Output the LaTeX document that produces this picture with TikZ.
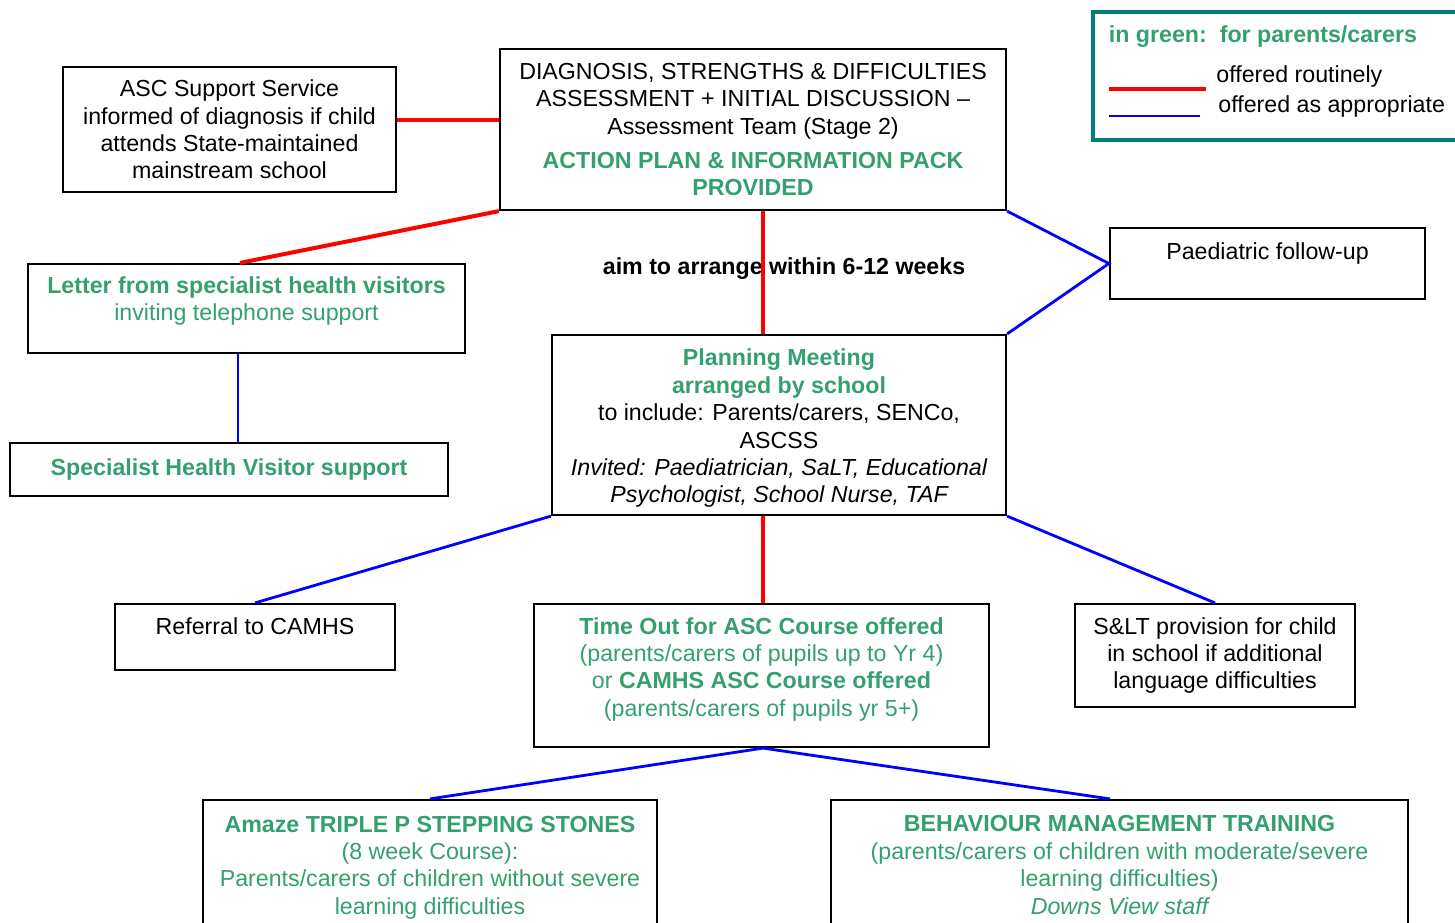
\documentclass[tikz,border=0pt]{standalone}
\usepackage{fontspec}
\setmainfont{Liberation Sans}
\usetikzlibrary{calc}

\definecolor{carer}{RGB}{52,160,110}
\definecolor{legendteal}{RGB}{0,128,118}
\newcommand{\grn}[1]{\textcolor{carer}{#1}}
\newcommand{\grb}[1]{\textcolor{carer}{\bfseries #1}}
\newcommand{\padline}[1][0pt]{\\[#1]\rule{0pt}{1pt}}
\newcommand{\boxfont}{\fontsize{11.6}{13.7}\selectfont}

\begin{document}
\begin{tikzpicture}[x=0.5pt,y=-0.5pt,
  box/.style={draw=black, line width=1.1pt, align=center, inner sep=2pt, font=\boxfont},
  routine/.style={draw=red, line width=2pt},
  optional/.style={draw=blue, line width=1.4pt}]

\useasboundingbox (0,0) rectangle (1455,922);

% Kasten
\node[box, minimum width=166.5pt, minimum height=62.5pt] (asc) at (229.5,129.5)
  {ASC Support Service\\informed of diagnosis if child\\attends State-maintained\\mainstream school};
\node[box, minimum width=253pt, minimum height=80.5pt] (diag) at (753,129.5)
  {DIAGNOSIS, STRENGTHS \& DIFFICULTIES\\ASSESSMENT + INITIAL DISCUSSION --\\Assessment Team (Stage 2)\\[3.3pt]
   \grb{ACTION PLAN \& INFORMATION PACK}\\\grb{PROVIDED}};
\node[box, minimum width=218.5pt, minimum height=44.5pt] (letter) at (246.5,308.5)
  {\grb{Letter from specialist health visitors}\\\grn{inviting telephone support}\padline[-4pt]};
\node[box, minimum width=157.5pt, minimum height=35.5pt] (paed) at (1267.5,263.5)
  {Paediatric follow-up\padline[-1pt]};
\node[box, minimum width=227pt, minimum height=90pt] (plan) at (779,425)
  {\rule{0pt}{11.8pt}\grb{Planning Meeting}\\\grb{arranged by school}\\to include: Parents/carers, SENCo,\\ASCSS\\
   \itshape Invited: Paediatrician, SaLT, Educational\\\itshape Psychologist, School Nurse, TAF};
\node[box, minimum width=219pt, minimum height=26.5pt] (shv) at (229,469.5)
  {\grb{Specialist Health Visitor support}};
\node[box, minimum width=140pt, minimum height=33pt] (camhs) at (255,637)
  {Referral to CAMHS\padline[-3pt]};
\node[box, minimum width=227.5pt, minimum height=71.5pt] (timeout) at (761.5,675.5)
  {\grb{Time Out for ASC Course offered}\\\grn{(parents/carers of pupils up to Yr 4)}\\
   \grn{or} \grb{CAMHS ASC Course offered}\\\grn{(parents/carers of pupils yr 5+)}\padline[-5pt]};
\node[box, minimum width=140pt, minimum height=51.5pt] (salt) at (1215,655.5)
  {S\&LT provision for child\\in school if additional\\language difficulties};
\node[box, minimum width=227pt, minimum height=67.5pt] (amaze) at (430,867.5)
  {\grb{Amaze TRIPLE P STEPPING STONES}\\\grn{(8 week Course):}\\
   \grn{Parents/carers of children without severe}\\\grn{learning difficulties}};
\node[box, minimum width=288.5pt, minimum height=67.5pt] (bmt) at (1119.5,867.5)
  {\grb{BEHAVIOUR MANAGEMENT TRAINING}\\\grn{(parents/carers of children with moderate/severe}\\
   \grn{learning difficulties)}\\\grn{\itshape Downs View staff}\padline[-11pt]};

\node[font=\boxfont\bfseries] (aim) at (784,269) {aim to arrange within 6-12 weeks};

% Legende
\node[draw=legendteal, line width=2pt, minimum width=186pt, minimum height=64pt] (legend) at (1279,76) {};
\node[font=\boxfont\bfseries, text=carer] (legtitle) at (1263,37) {in green:\ \ for parents/carers};
\node[anchor=west, font=\boxfont, inner sep=0pt] (legroutine) at (1216,76) {offered routinely};
\node[anchor=west, font=\boxfont, inner sep=0pt] (legapprop) at (1218,106) {offered as appropriate};
\draw[routine] (1109,89) -- (1206,89);
\draw[optional, line width=0.8pt] (1109,116) -- (1200,116);

% Verbindungen
\draw[routine] (asc.east |- 0,120) -- (diag.west |- 0,120);
\draw[routine] (diag.south west) -- (letter.north -| 240,0);
\draw[routine] (diag.south -| 763,0) -- (plan.north -| 763,0);
\draw[optional] (diag.south east) -- (paed.west) -- (plan.north east);
\draw[optional] (letter.south -| 238,0) -- (shv.north -| 238,0);
\draw[optional] (plan.south west) -- (camhs.north);
\draw[routine] (plan.south -| 763,0) -- (timeout.north -| 763,0);
\draw[optional] (plan.south east) -- (salt.north);
\draw[optional] (timeout.south -| 763,0) -- (amaze.north);
\draw[optional] (timeout.south -| 763,0) -- (bmt.north -| 1110,0);

\end{tikzpicture}
\end{document}
